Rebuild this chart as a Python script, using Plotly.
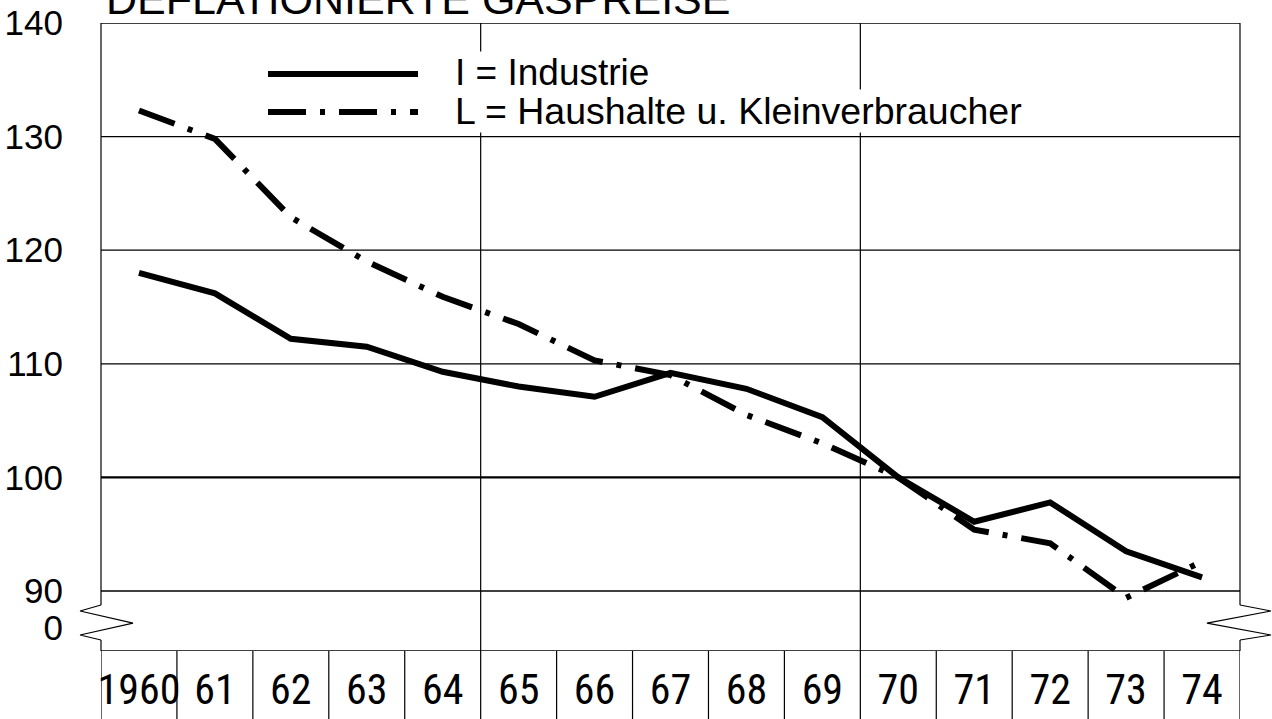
import plotly.graph_objects as go

years = list(range(1960, 1975))
year_labels = ["1960", "61", "62", "63", "64", "65", "66", "67", "68", "69",
               "70", "71", "72", "73", "74"]
industrie = [118.0, 116.2, 112.2, 111.5, 109.3, 108.0, 107.1, 109.2, 107.8,
             105.3, 100.0, 96.1, 97.8, 93.5, 91.2]
haushalte = [132.3, 129.8, 122.9, 119.0, 115.9, 113.5, 110.3, 109.0, 105.5,
             103.0, 100.0, 95.4, 94.2, 89.4, 92.6]
y_grid = [90, 100, 110, 120, 130, 140]
y_tick_vals = [86.8, 90, 100, 110, 120, 130, 140]
y_tick_text = ["0", "90", "100", "110", "120", "130", "140"]

FONT = "Liberation Sans Narrow, Roboto Condensed, Liberation Sans, Arial"
FONT2 = "Liberation Sans, Arial"
Y0 = 84.72  # position of the broken-axis "0" line
DASHDOT = "38px,14px,5px,14px"

fig = go.Figure()
fig.add_trace(go.Scatter(x=years, y=industrie, mode="lines",
                         line=dict(color="black", width=6),
                         name="I = Industrie", showlegend=False))
fig.add_trace(go.Scatter(x=years, y=haushalte, mode="lines",
                         line=dict(color="black", width=6, dash=DASHDOT),
                         name="L = Haushalte u. Kleinverbraucher", showlegend=False))

shapes = []
for v in y_grid:
    shapes.append(dict(type="line", xref="paper", yref="y", x0=0, x1=1, y0=v, y1=v,
                       line=dict(color="black", width=2.4 if v == 100 else 1.3),
                       layer="below"))
# zero line (top of year boxes)
shapes.append(dict(type="line", xref="paper", yref="y", x0=0, x1=1, y0=Y0, y1=Y0,
                   line=dict(color="black", width=1.5), layer="below"))
# vertical grid lines
for xv in [1964.5, 1969.5]:
    shapes.append(dict(type="line", xref="x", yref="y", x0=xv, x1=xv, y0=Y0, y1=140,
                       line=dict(color="black", width=1.2), layer="below"))
# box row separators
for i in range(len(years) + 1):
    xv = years[0] - 0.5 + i
    shapes.append(dict(type="line", xref="x", yref="paper", x0=xv, x1=xv, y0=0, y1=-0.2,
                       line=dict(color="black", width=1.2), layer="below"))
# left and right borders with break
for xb in [0, 1]:
    shapes.append(dict(type="line", xref="paper", yref="y", x0=xb, x1=xb, y0=140, y1=88.77,
                       line=dict(color="black", width=1.2)))
    shapes.append(dict(type="line", xref="paper", yref="y", x0=xb, x1=xb, y0=85.69, y1=Y0,
                       line=dict(color="black", width=1.2)))
# zigzag break marks
shapes.append(dict(type="path", xref="paper", yref="y",
                   path="M 0,88.77 L -0.0184,88.24 L 0.0281,87.18 L -0.0184,86.13 L 0,85.69",
                   line=dict(color="black", width=1.2)))
shapes.append(dict(type="path", xref="paper", yref="y",
                   path="M 1,88.77 L 1.0272,88.24 L 0.971,87.18 L 1.0272,86.13 L 1,85.69",
                   line=dict(color="black", width=1.2)))
# legend samples
shapes.append(dict(type="line", xref="paper", yref="paper",
                   x0=(268 - 101) / 1139, x1=(418 - 101) / 1139,
                   y0=(651 - 74) / 628, y1=(651 - 74) / 628,
                   line=dict(color="black", width=6)))
shapes.append(dict(type="line", xref="paper", yref="paper",
                   x0=(268 - 101) / 1139, x1=(418 - 101) / 1139,
                   y0=(651 - 112) / 628, y1=(651 - 112) / 628,
                   line=dict(color="black", width=6, dash=DASHDOT)))

annotations = [
    dict(text="DEFLATIONIERTE GASPREISE", xref="paper", yref="paper",
         x=(104 - 101) / 1139, y=1, xanchor="left", yanchor="bottom", yshift=-2,
         showarrow=False, font=dict(family=FONT2, size=43, color="black")),
    dict(text="I = Industrie", xref="paper", yref="paper",
         x=(454 - 101) / 1139, y=(651 - 72) / 628, xanchor="left", yanchor="middle",
         showarrow=False, bgcolor="white", borderpad=0,
         font=dict(family=FONT2, size=37, color="black")),
    dict(text="L = Haushalte u. Kleinverbraucher", xref="paper", yref="paper",
         x=(454 - 101) / 1139, y=(651 - 111) / 628, xanchor="left", yanchor="middle",
         showarrow=False, bgcolor="white", borderpad=0,
         font=dict(family=FONT2, size=37.5, color="black")),
]

fig.update_layout(
    width=1272, height=719,
    margin=dict(l=101, r=32, t=23, b=68, autoexpand=False),
    paper_bgcolor="white", plot_bgcolor="white",
    shapes=shapes, annotations=annotations,
    xaxis=dict(range=[1959.5, 1974.5], tickvals=years, ticktext=year_labels,
               showgrid=False, zeroline=False, showline=False, ticks="",
               automargin=False, ticklabelstandoff=10,
               tickfont=dict(family=FONT, size=42, color="black")),
    yaxis=dict(range=[Y0, 140], tickvals=y_tick_vals, ticktext=y_tick_text,
               showgrid=False, zeroline=False, showline=False, ticks="",
               automargin=False, ticklabelstandoff=37,
               tickfont=dict(family=FONT2, size=35, color="black")),
)

fig.write_html("out.html", config={"displayModeBar": False},
               post_script="document.body.style.margin='0';"
                           "document.body.style.overflow='hidden';")
